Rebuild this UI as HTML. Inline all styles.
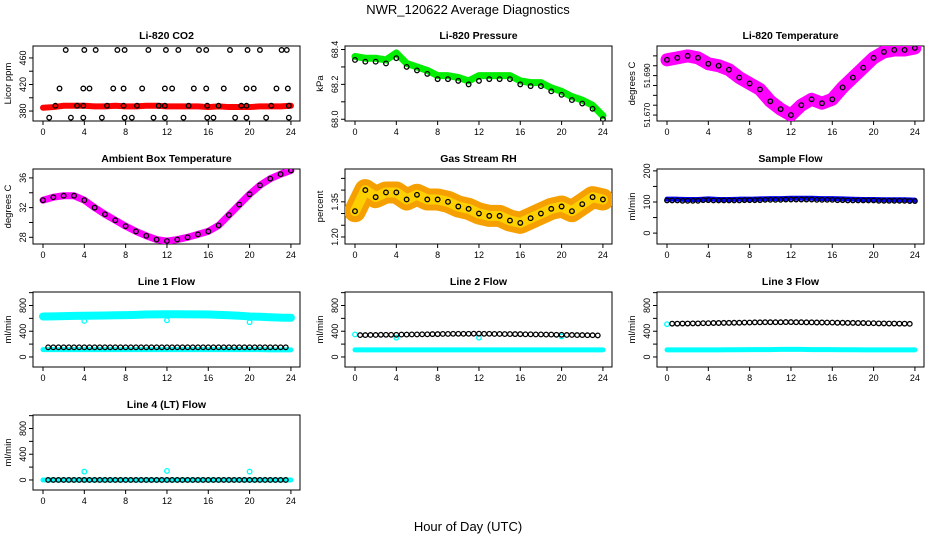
<!DOCTYPE html>
<html><head><meta charset="utf-8"><style>
html,body{margin:0;padding:0;background:#fff;}
svg{display:block;font-family:"Liberation Sans",sans-serif;}
</style></head><body>
<svg id="chart" width="936" height="540" viewBox="0 0 936 540">
<text x="468" y="14" text-anchor="middle" font-size="13">NWR_120622  Average Diagnostics</text>
<text x="468" y="531" text-anchor="middle" font-size="13">Hour of Day (UTC)</text>
</svg>
<script>
// ---- data ----
const hours = [0,1,2,3,4,5,6,7,8,9,10,11,12,13,14,15,16,17,18,19,20,21,22,23,24];
const xTicks = [0,4,8,12,16,20,24];
const co2Band = [385,386,388,388,388,387,387,388,387,387,388,388,387,387,387,387,386,387,386,386,386,387,387,387,388];
const co2HighH = [2.2,4.0,5.1,7.2,7.9,10.2,11.9,13.1,15.1,15.8,18.1,19.8,21.0,23.1,23.6];
const co2MidH = [1.6,3.9,4.5,6.8,7.8,9.6,11.8,12.5,14.6,15.8,17.5,19.7,20.4,22.6,23.7];
const co2LowH = [1.2,3.3,3.9,6.2,7.8,9.1,11.2,11.8,14.1,15.9,17.0,19.2,19.7,22.1,23.8];
const co2MinH = [0.6,2.7,3.9,5.7,7.9,8.6,10.7,11.8,13.6,15.9,16.5,18.6,19.7,21.6,23.8];
const co2Levels = [472,414,388,370];
const pressGreen = [68.36,68.35,68.35,68.34,68.38,68.32,68.30,68.28,68.25,68.25,68.24,68.22,68.25,68.25,68.25,68.25,68.22,68.21,68.21,68.18,68.16,68.13,68.11,68.08,68.02];
const pressBlack = [68.34,68.33,68.33,68.32,68.35,68.30,68.28,68.26,68.23,68.23,68.22,68.20,68.22,68.23,68.23,68.23,68.20,68.19,68.19,68.16,68.14,68.11,68.09,68.06,68.00];
const tempVals = [51.698,51.699,51.700,51.699,51.696,51.695,51.693,51.689,51.686,51.683,51.677,51.673,51.670,51.675,51.678,51.676,51.678,51.684,51.689,51.694,51.699,51.702,51.703,51.703,51.704];
const ambVals = [33.0,33.4,33.6,33.6,33.0,32.0,31.1,30.3,29.5,28.8,28.2,27.7,27.5,27.7,28.0,28.4,28.8,29.6,31.0,32.4,33.8,35.0,35.9,36.5,37.0];
const rhVals = [1.31,1.40,1.37,1.39,1.39,1.36,1.38,1.36,1.36,1.35,1.33,1.32,1.30,1.29,1.29,1.27,1.26,1.28,1.30,1.32,1.33,1.31,1.34,1.37,1.36];
const sampleBlue = [109,109,108,108,110,108,108,109,109,110,111,111,112,112,112,111,111,110,109,108,108,107,107,107,106];
const sampleBlack = [105,105,104,104,106,105,105,105,106,106,107,107,108,108,108,107,107,106,105,105,105,104,104,104,103];
const line1Upper = [630,632,635,638,640,642,645,648,650,655,660,662,665,665,663,662,660,655,648,640,630,625,618,612,610];
const line1Lower = [115,115,115,115,115,115,115,115,115,115,115,115,115,115,115,115,115,115,115,115,115,115,110,110,110];
const line1Black = [150,150,150,150,150,150,150,150,150,150,150,150,150,150,150,150,150,150,150,150,150,150,150,150,150];
const line2Black = [340,340,342,345,345,348,350,352,355,358,360,360,362,360,358,356,355,352,350,348,345,342,340,338,335];
const line2Lower = [110,110,110,110,110,110,110,110,110,110,110,110,110,110,110,110,110,110,110,110,110,110,110,110,110];
const line3Black = [515,518,520,522,525,528,530,532,535,538,540,540,542,540,538,536,535,532,530,528,525,522,520,518,515];
const line3Lower = [110,110,110,110,110,110,112,112,115,115,115,118,118,118,115,115,115,112,112,110,110,110,110,110,110];
const line4Black = [0,0,0,0,0,0,0,0,0,0,0,0,0,0,0,0,0,0,0,0,0,0,0,0,0];
const outlierH = [4,12,20];
const line1Out = [560,570,540];
const line4Out = [130,140,130];
</script>
<script>
const svg = document.getElementById('chart');
const NS = 'http://www.w3.org/2000/svg';
function mk(tag, attrs, parent){const e=document.createElementNS(NS,tag);for(const k in attrs)e.setAttribute(k,attrs[k]);(parent||svg).appendChild(e);return e;}

function makePanel(col,row,title,ylab,ylim,yticks,ylabels,name,labFont){
  const L=33+312*col, R=L+267, T=46+123*row, B=121+123*row;
  const g=mk('g',{});
  
  
  const px=h=>43+312*col+h*10.33;
  const py=v=>B-(v-ylim[0])/(ylim[1]-ylim[0])*(B-T);
  const box=mk('rect',{x:L,y:T,width:R-L,height:B-T,fill:'none',stroke:'#000','stroke-width':1},g);
  
  
  const t=mk('text',{x:(L+R)/2,y:T-7,'text-anchor':'middle','font-size':10.5,'font-weight':'bold'},g);
  t.textContent=title;
  
  
  const yl=mk('text',{x:0,y:0,'text-anchor':'middle','font-size':9.5,transform:`translate(${L-22},${(T+B)/2}) rotate(-90)`},g);
  yl.textContent=ylab;
  
  
  xTicks.forEach(h=>{
    mk('line',{x1:px(h),x2:px(h),y1:B,y2:B+4,stroke:'#000'},g);
    const tx=mk('text',{x:px(h),y:B+14,'text-anchor':'middle','font-size':9},g);
    tx.textContent=h;
    
    
  });
  mk('line',{x1:L,x2:L,y1:T,y2:B,stroke:'#000'},g);
  yticks.forEach(v=>{
    mk('line',{x1:L,x2:L-4,y1:py(v),y2:py(v),stroke:'#000'},g);
  });
  ylabels.forEach(v=>{
    const tl=mk('text',{x:0,y:0,'text-anchor':'middle','font-size':labFont||9,transform:`translate(${L-7},${py(+v)}) rotate(-90)`},g);
    tl.textContent=v;
    
    
  });
  const clip='c'+name;
  const cp=mk('clipPath',{id:clip},g);mk('rect',{x:L,y:T,width:R-L,height:B-T},cp);
  const d=mk('g',{'clip-path':`url(#${clip})`},g);
  return {px,py,g:d};
}
function band(p,xs,vals,color,w,name){
  const pl=mk('polyline',{points:xs.map((h,i)=>p.px(h)+','+p.py(vals[i])).join(' '),fill:'none',stroke:color,'stroke-width':w,'stroke-linejoin':'round','stroke-linecap':'round'},p.g);
  
  
}
function pts(p,xs,vals,color,name,r){
  xs.forEach((h,i)=>{
    const c=mk('circle',{cx:p.px(h),cy:p.py(vals[i]),r:r||2.3,fill:'none',stroke:color,'stroke-width':1.3},p.g);
    
    
  });
}
function halfShift(xs){return xs.slice(0,-1).map(h=>h+0.5);}

// CO2
let p=makePanel(0,0,'Li-820 CO2','Licor ppm',[365,478],[380,400,420,440,460],['380','420','460'],'co2');
band(p,hours,co2Band,'#ff0000',6,'co2-band');
[co2HighH,co2MidH,co2LowH,co2MinH].forEach((hs,k)=>pts(p,hs,hs.map(()=>co2Levels[k]),'#000','co2-point'));
// Pressure
p=makePanel(1,0,'Li-820 Pressure','kPa',[67.99,68.42],[68.0,68.1,68.2,68.3,68.4],['68.0','68.2','68.4'],'pressure');
band(p,hours,pressGreen,'#00ee00',7,'pressure-band');
pts(p,hours,pressBlack,'#000','pressure-point');
// Temperature
p=makePanel(2,0,'Li-820 Temperature','degrees C',[51.667,51.705],[51.670,51.675,51.680,51.685,51.690,51.695,51.700],['51.670','51.690'],'li820-temp',8);
band(p,hours,tempVals,'#ff00ff',13,'li820-temp-band');
pts(p,hours,tempVals,'#000','li820-temp-point');
// Ambient
p=makePanel(0,1,'Ambient Box Temperature','degrees C',[27.1,37.2],[28,30,32,34,36],['28','32','36'],'ambient');
band(p,hours,ambVals,'#ff00ff',7,'ambient-band');
pts(p,hours,ambVals,'#000','ambient-point');
// RH
p=makePanel(1,1,'Gas Stream RH','percent',[1.17,1.49],[1.20,1.25,1.30,1.35,1.40,1.45],['1.20','1.35'],'rh');
band(p,hours,rhVals,'#f5a000',22,'rh-band');
band(p,hours,rhVals,'#ffd000',10,'rh-band-core');
pts(p,hours,rhVals,'#000','rh-point');
// Sample flow
p=makePanel(2,1,'Sample Flow','ml/min',[-35,206],[0,50,100,150,200],['0','100','200'],'sample-flow');
band(p,hours,sampleBlue,'#0000ff',5,'sample-flow-band');
pts(p,hours,sampleBlack,'#000','sample-flow-point');
pts(p,halfShift(hours),sampleBlack.slice(1),'#000','sample-flow-point');
const flowLim=[-156,1010], flowTicks=[0,200,400,600,800,1000], flowLabs=['0','400','800'];
// Line 1
p=makePanel(0,2,'Line 1 Flow','ml/min',flowLim,flowTicks,flowLabs,'line1');
band(p,hours,line1Upper,'#00ffff',8,'line1-upper-band');
band(p,hours,line1Lower,'#00ffff',5,'line1-lower-band');
pts(p,outlierH,line1Out,'#00ffff','line1-outlier');
pts(p,hours.slice(1,24),line1Black.slice(1,24),'#000','line1-point');
pts(p,halfShift(hours),line1Black.slice(1),'#000','line1-point');
// Line 2
p=makePanel(1,2,'Line 2 Flow','ml/min',flowLim,flowTicks,flowLabs,'line2');
band(p,hours,line2Lower,'#00ffff',5,'line2-lower-band');
pts(p,[0],[350],'#00ffff','line2-cyan-point');
pts(p,outlierH,[300,300,320],'#00ffff','line2-outlier');
pts(p,hours.slice(1,24),line2Black.slice(1,24),'#000','line2-point');
pts(p,halfShift(hours),line2Black.slice(1),'#000','line2-point');
// Line 3
p=makePanel(2,2,'Line 3 Flow','ml/min',flowLim,flowTicks,flowLabs,'line3');
band(p,hours,line3Lower,'#00ffff',5,'line3-lower-band');
pts(p,[0],[510],'#00ffff','line3-cyan-point');
pts(p,hours.slice(1,24),line3Black.slice(1,24),'#000','line3-point');
pts(p,halfShift(hours),line3Black.slice(1),'#000','line3-point');
// Line 4
p=makePanel(0,3,'Line 4 (LT) Flow','ml/min',flowLim,flowTicks,flowLabs,'line4');
band(p,hours,line4Black,'#00ffff',5,'line4-band');
pts(p,outlierH,line4Out,'#00ffff','line4-outlier');
pts(p,hours.slice(1,24),line4Black.slice(1,24),'#000','line4-point');
pts(p,halfShift(hours),line4Black.slice(1),'#000','line4-point');
</script>
</body></html>
